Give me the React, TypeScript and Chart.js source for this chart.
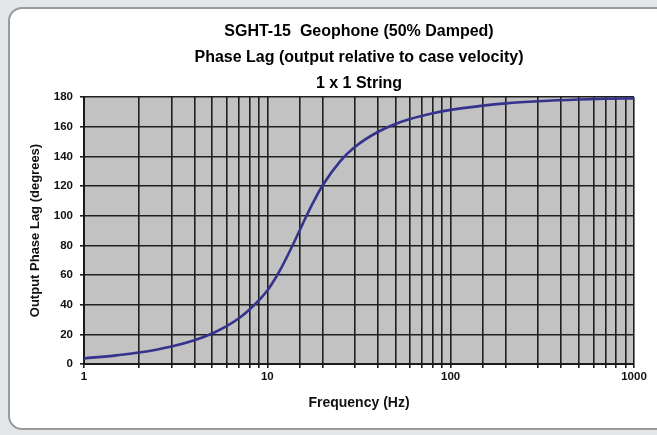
import React, { useEffect, useRef } from "react";
import { Chart, registerables } from "chart.js";

Chart.register(...registerables);

const titleLines = [
  "SGHT-15  Geophone (50% Damped)",
  "Phase Lag (output relative to case velocity)",
  "1 x 1 String",
];
const xTitle = "Frequency (Hz)";
const yTitle = "Output Phase Lag (degrees)";

const frequencyHz = [1, 1.5, 2, 3, 4, 5, 6, 7, 8, 9, 10, 11, 12, 13, 14, 15, 16, 18, 20, 25, 30, 40, 50, 60, 80, 100, 150, 200, 300, 500, 700, 1000];
const phaseLagDeg = [3.8, 5.8, 7.7, 11.8, 16.0, 20.6, 25.5, 30.8, 36.7, 43.0, 49.5, 57.3, 65.5, 74.0, 82.1, 90.0, 97.4, 110.1, 120.3, 136.8, 146.3, 156.4, 161.8, 165.1, 169.0, 171.3, 174.2, 175.7, 177.1, 178.3, 178.8, 179.1];
const xLabelTicks = [1, 10, 100, 1000];

const FONT = "'Liberation Sans', Arial, sans-serif";

export default function App() {
  const ref = useRef<HTMLCanvasElement | null>(null);

  useEffect(() => {
    if (!ref.current) return;
    const plotBg = {
      id: "plotBg",
      beforeDraw(chart: any) {
        const { ctx, chartArea } = chart;
        ctx.save();
        ctx.fillStyle = "#c2c2c2";
        ctx.fillRect(chartArea.left, chartArea.top, chartArea.right - chartArea.left, chartArea.bottom - chartArea.top);
        ctx.restore();
      },
    };
    const chart = new Chart(ref.current, {
      type: "line",
      data: {
        datasets: [
          {
            data: frequencyHz.map((f, i) => ({ x: f, y: phaseLagDeg[i] })),
            borderColor: "#35338c",
            borderWidth: 2.6,
            pointRadius: 0,
            cubicInterpolationMode: "monotone",
            fill: false,
          },
        ],
      },
      options: {
        animation: false,
        responsive: false,
        maintainAspectRatio: false,
        layout: { padding: { left: 0, right: 23, top: 0, bottom: 0 } },
        plugins: {
          legend: { display: false },
          tooltip: { enabled: false },
          title: {
            display: true,
            text: titleLines,
            fullSize: false,
            color: "#000",
            font: { family: FONT, size: 16, weight: "bold", lineHeight: "26px" },
            padding: { top: 19, bottom: 0 },
          },
        },
        scales: {
          x: {
            type: "logarithmic",
            min: 1,
            max: 1000,
            afterFit: (s: any) => {
              s.height = 71;
            },
            grid: { color: "#1f1f1f", lineWidth: 1.6, tickLength: 4, drawTicks: true },
            border: { color: "#1a1a1a", width: 2 },
            ticks: {
              autoSkip: false,
              maxRotation: 0,
              padding: 2,
              color: "#111",
              font: { family: FONT, size: 11.5, weight: "bold" },
              callback: (v: any) => (xLabelTicks.includes(Number(v)) ? String(v) : ""),
            },
            title: {
              display: true,
              text: xTitle,
              color: "#111",
              font: { family: FONT, size: 14, weight: "bold" },
              padding: { top: 0, bottom: 23 },
            },
          },
          y: {
            min: 0,
            max: 180,
            afterFit: (s: any) => {
              s.width = 84;
            },
            grid: { color: "#1f1f1f", lineWidth: 1.6, tickLength: 4, drawTicks: true },
            border: { color: "#1a1a1a", width: 2 },
            ticks: {
              stepSize: 20,
              padding: 7,
              color: "#111",
              font: { family: FONT, size: 11.5, weight: "bold" },
            },
            title: {
              display: true,
              text: yTitle,
              color: "#111",
              font: { family: FONT, size: 13, weight: "bold" },
              padding: { top: 28, bottom: 0 },
            },
          },
        },
      },
      plugins: [plotBg],
    } as any);
    return () => chart.destroy();
  }, []);

  return (
    <div style={{ position: "fixed", left: 0, top: 0, width: 657, height: 435, overflow: "hidden", background: "#e4e7e9" }}>
      <div
        style={{
          position: "absolute",
          left: 8,
          top: 7,
          width: 700,
          height: 419,
          border: "2px solid #9a9a9a",
          borderRadius: 14,
          background: "#ffffff",
        }}
      />
      <canvas ref={ref} width={657} height={435} style={{ position: "absolute", left: 0, top: 0, width: 657, height: 435 }} />
    </div>
  );
}
